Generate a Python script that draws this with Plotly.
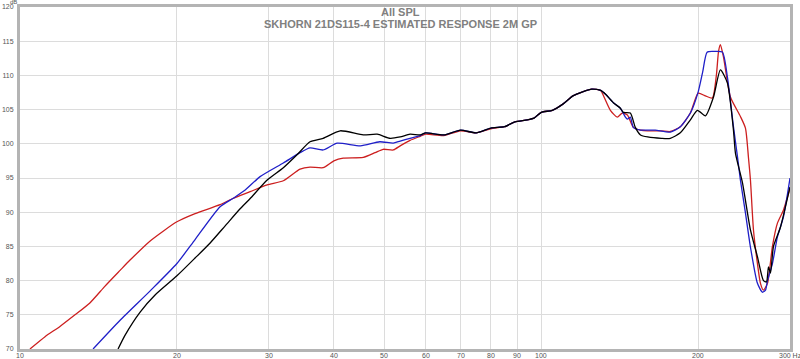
import math
import plotly.graph_objects as go

# ---- data ----
red_freq = [10.45, 11.17, 11.93, 12.75, 13.6, 14.56, 15.56, 16.26, 17.77, 20.0, 21.67, 24.2, 25.6, 27.64, 29.8, 32.0,
            34.46, 36.0, 38.15, 40.0, 41.69, 45.54, 48.0, 49.74, 52.0, 53.62, 56.0, 58.6,
            60, 65, 70, 75, 80, 85, 89, 94, 97, 100, 105, 110, 115, 120, 125, 130, 131.5,
            135.7, 139.9, 143.0, 146.3, 150.2, 155, 160, 170, 176.8, 184.8, 193.2, 200, 206.5, 212.9, 216.7, 218.8,
            220.6, 223.6, 230.7, 241, 246.4, 249.7, 251.9, 255.3, 259.8, 263.3, 266.8, 271.6, 277.6, 283.8, 291.4, 300]
red_db = [70, 71.8, 73.3, 75, 76.7, 79.2, 81.5, 83, 85.8, 88.6, 89.8, 91.1, 92, 93, 94, 94.6,
          96.3, 96.6, 96.5, 97.5, 97.9, 98, 98.7, 99.2, 99.1, 99.7, 100.5, 101.1,
          101.4, 101.2, 101.9, 101.6, 102.2, 102.5, 103.2, 103.5, 103.8, 104.6, 104.9, 105.8, 107.0, 107.6, 108.0, 107.8, 107.1,
          104.9, 103.9, 104.5, 104.2, 102.4, 102.0, 101.9, 101.9, 101.8, 102.5, 104.5, 107.4, 107.0, 106.7, 110.0, 113.5,
          114.5, 112.7, 106.8, 104.0, 102.3, 98.0, 94.7, 87.4, 82.5, 79.6, 78.6, 79.6, 85.0, 88.4, 90.3, 93.5]

blue_freq = [13.81, 15.56, 17.77, 20.0, 21.67, 24.2, 25.6, 27.0, 28.88, 32.0, 34.46, 36.0, 38.15, 40.6, 45.0, 49.0,
             52.0, 53.62, 56.0, 58.6,
             60, 65, 70, 75, 80, 85, 89, 94, 97, 100, 105, 110, 115, 120, 125, 130, 133,
             137.5, 141.8, 145.0, 146.3, 148.2, 150.2, 155, 160, 165.5, 176.8, 184.8, 193.2, 200, 204, 208, 215, 222.6,
             227.5, 233.7, 237.9, 241, 246.4, 251.9, 259.8, 265.6, 269.2, 271.6, 277.6, 283.8, 291.4, 300]
blue_db = [70, 74.2, 78.5, 82.5, 86, 90.8, 92, 93.2, 95.2, 97.2, 98.7, 99.4, 99.1, 100.1, 99.7, 100.3,
           100.1, 100.4, 100.8, 101.2,
           101.6, 101.3, 102.0, 101.6, 102.3, 102.5, 103.2, 103.5, 103.8, 104.6, 104.9, 105.8, 107.0, 107.6, 108.0, 107.8, 107.2,
           106.0, 105.2, 103.9, 103.6, 103.9, 102.4, 102.0, 102.0, 102.0, 101.7, 102.5, 104.5, 107.6, 110.5, 113.4, 113.5, 113.4,
           109.8, 102.5, 98.1, 94.7, 89.9, 84.9, 79.6, 78.3, 78.6, 80.0, 82.5, 86.4, 89.3, 95.0]

black_freq = [15.42, 15.9, 17.0, 18.16, 20.0, 21.67, 23.16, 24.75, 26.44, 27.64, 29.8, 32.0, 34.0, 36.0, 38.15, 41.14,
              45.54, 48.45, 51.31, 53.62, 56.0, 58.6,
              60, 65, 70, 75, 80, 85, 89, 94, 97, 100, 105, 110, 115, 120, 125, 130, 133,
              137.5, 141.8, 143.7, 148.2, 151.5, 155, 160, 170, 176.8, 184.8, 193.2, 199.3, 206.5, 213.9, 220.6,
              227.5, 233.7, 235.8, 243.2, 251.9, 259.8, 266.8, 270.4, 272.8, 275.2, 278.9, 287.6, 300]
black_db = [70, 72, 75.4, 77.9, 80.7, 83.3, 85.5, 88, 90.5, 92, 94.7, 96.5, 98.4, 100.3, 100.8, 101.9,
            101.3, 101.4, 100.8, 101.0, 101.4, 101.3,
            101.6, 101.3, 102.0, 101.6, 102.3, 102.5, 103.2, 103.5, 103.8, 104.6, 104.9, 105.8, 107.0, 107.6, 108.0, 107.8, 107.2,
            106.0, 105.2, 104.6, 104.5, 102.4, 101.3, 101.0, 100.8, 100.8, 101.6, 103.5, 104.9, 104.1, 106.8, 110.8,
            108.9, 102.0, 98.6, 94.3, 87.4, 83.5, 80.0, 79.8, 82.0, 81.1, 85.0, 87.8, 93.7]

x_ticks = [10, 20, 30, 40, 50, 60, 70, 80, 90, 100, 200, 300]
x_ticktext = ["10", "20", "30", "40", "50", "60", "70", "80", "90", "100", "200", "300 Hz"]
y_ticks = [70, 75, 80, 85, 90, 95, 100, 105, 110, 115, 120]

title_line1 = "All SPL"
title_line2 = "SKHORN 21DS115-4 ESTIMATED RESPONSE 2M GP"

# ---- figure ----
W, H = 800, 359
L, R, T, B = 20, 10, 7, 10

fig = go.Figure()
for fx, fy, col in [(red_freq, red_db, "#cc1f1f"), (blue_freq, blue_db, "#1f1fc8"), (black_freq, black_db, "#000000")]:
    fig.add_trace(go.Scatter(x=fx, y=fy, mode="lines",
                             line=dict(color=col, width=1.3, shape="spline", smoothing=0.6),
                             hoverinfo="skip", showlegend=False, cliponaxis=True))

font_fam = "Liberation Sans, Arial, sans-serif"
tick_font = dict(family=font_fam, size=7, color="#555555")
fig.update_layout(
    width=W, height=H,
    margin=dict(l=L, r=R, t=T, b=B),
    paper_bgcolor="white", plot_bgcolor="white",
    showlegend=False,
    font=dict(family=font_fam, size=8, color="#444444"),
)
fig.update_xaxes(type="log", range=[1, 2.477125], tickvals=x_ticks, showticklabels=False,
                 showgrid=True, gridcolor="#dcdcdc", gridwidth=1,
                 showline=True, linecolor="#b4b4b4", linewidth=3, mirror=True,
                 ticks="", zeroline=False, automargin=False)
fig.update_yaxes(range=[70, 120], tickvals=y_ticks,
                 showgrid=True, gridcolor="#dcdcdc", gridwidth=1,
                 showline=True, linecolor="#b4b4b4", linewidth=3, mirror=True,
                 ticks="", tickfont=tick_font, ticklabelstandoff=2,
                 zeroline=False, automargin=False)

# x tick labels placed just under the axis line (annotation x on a log axis is log10)
for v, t in zip(x_ticks, x_ticktext):
    fig.add_annotation(text=t, xref="x", yref="paper", x=math.log10(v), y=(349 - 355) / 342,
                       showarrow=False, font=tick_font, xanchor="center", yanchor="middle")

fig.add_annotation(text="<b>" + title_line1 + "</b>", xref="paper", yref="paper",
                   x=(400 - L) / 770, y=(349 - 12) / 342, showarrow=False,
                   font=dict(family=font_fam, size=11, color="#808080"), xanchor="center", yanchor="middle")
fig.add_annotation(text="<b>" + title_line2 + "</b>", xref="paper", yref="paper",
                   x=(400 - L) / 770, y=(349 - 24) / 342, showarrow=False,
                   font=dict(family=font_fam, size=11, color="#808080"), xanchor="center", yanchor="middle")
fig.add_annotation(text="dB", xref="paper", yref="paper", x=(13 - L) / 770, y=(349 - 2) / 342,
                   showarrow=False, font=dict(family=font_fam, size=6, color="#555555"),
                   xanchor="center", yanchor="middle")

fig.write_html("out.html", config={"displayModeBar": False},
               post_script="document.body.style.margin='0px';")
